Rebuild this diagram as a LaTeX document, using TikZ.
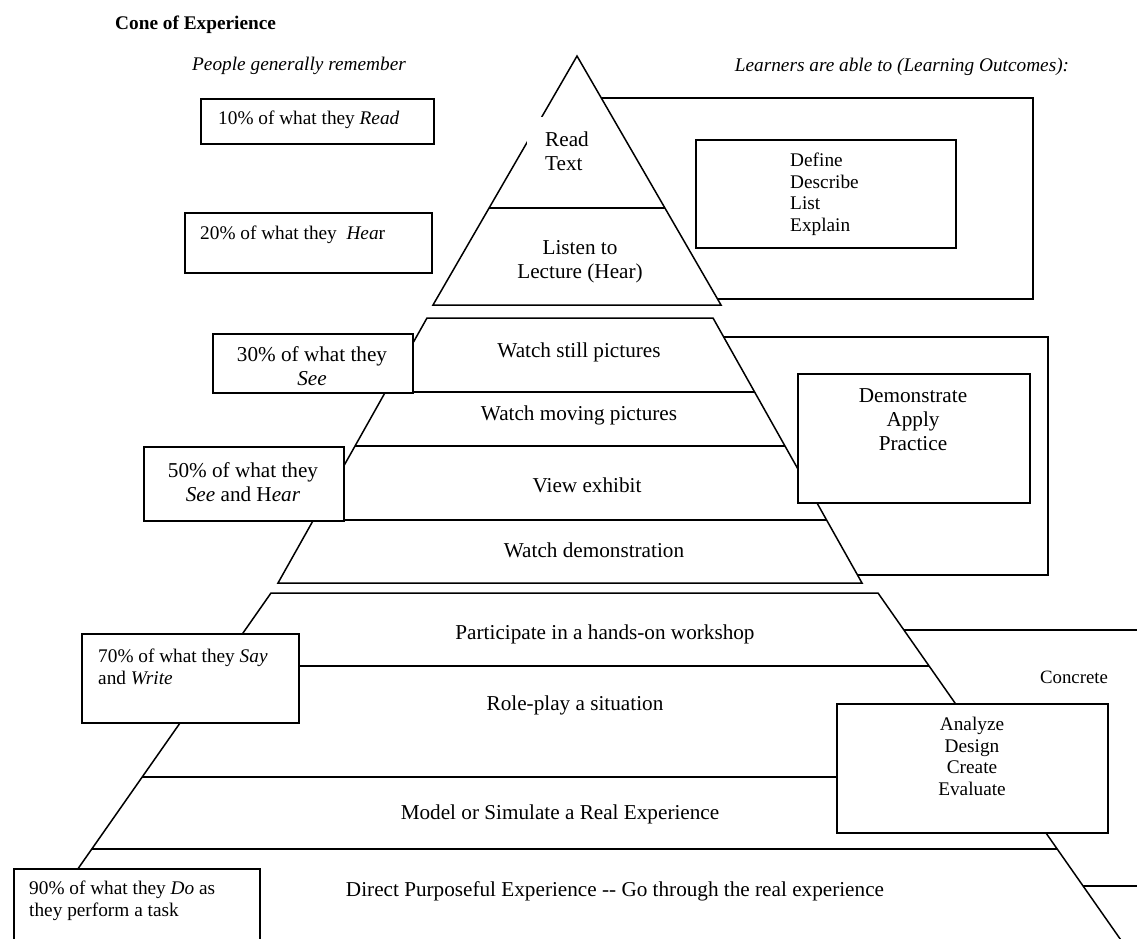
\documentclass[tikz,border=0pt]{standalone}
\usepackage{fontspec}
\setmainfont{Liberation Serif}
\usetikzlibrary{calc}

\newcommand{\conefont}{\fontsize{21.2}{24}\selectfont}
\newcommand{\sidefont}{\fontsize{19.3}{21.5}\selectfont}

\begin{document}
\begin{tikzpicture}[x=1pt,y=-1pt]
  \tikzset{FrameStyle/.style={draw=black,line width=1.5pt},
    ConeStyle/.style={draw=black,fill=white,line width=1.5pt},
    LineStyle/.style={draw=black,line width=1.5pt},
    BoxStyle/.style={draw=black,fill=white,line width=1.5pt,inner sep=0pt,anchor=north west},
    ConeText/.style={font=\conefont,inner sep=0pt,anchor=base},
    SideText/.style={font=\sidefont,inner sep=0pt,anchor=base west},
    ListText/.style={font=\sidefont,inner sep=0pt,anchor=north west,align=left}
  }
  \clip (0,0) rectangle (1137,938);
  % outcome frames (behind the cone)
  \draw[FrameStyle] (590,98) rectangle (1033,299);
  \draw[FrameStyle] (700,337) rectangle (1048,575);
  \draw[FrameStyle] (880,630) rectangle (1160,886);
  % top of the cone
  \coordinate (apex) at (577,56);
  \coordinate (tl) at (433,305);
  \coordinate (tr) at (721,305);
  \draw[ConeStyle] (apex) -- (tr) -- (tl) -- cycle;
  \draw[LineStyle] ($(apex)!0.6104!(tl)$) -- ($(apex)!0.6104!(tr)$);
  % middle part
  \coordinate (ml) at (427,318);
  \coordinate (mr) at (713,318);
  \coordinate (nl) at (278,583);
  \coordinate (nr) at (862,583);
  \draw[ConeStyle] (ml) -- (mr) -- (nr) -- (nl) -- cycle;
  \foreach \t in {0.2792,0.4830,0.7623}
    \draw[LineStyle] ($(ml)!\t!(nl)$) -- ($(mr)!\t!(nr)$);
  % base part
  \coordinate (bl) at (271,593);
  \coordinate (br) at (878,593);
  \coordinate (cl) at (5,973);
  \coordinate (cr) at (1144,973);
  \draw[ConeStyle] (bl) -- (br) -- (cr) -- (cl) -- cycle;
  \foreach \t in {0.1921,0.4842,0.6737}
    \draw[LineStyle] ($(bl)!\t!(cl)$) -- ($(br)!\t!(cr)$);

  % labels in the cone
  \node[font=\conefont,fill=white,inner xsep=18pt,inner ysep=14.4pt,anchor=north west,align=left] (read) at (527,117) {Read\\Text};
  \node[font=\conefont,inner sep=0pt,anchor=north,align=center] (listen) at (580,240.4) {Listen to\\Lecture (Hear)};
  \node[ConeText] (still) at (579,357) {Watch still pictures};
  \node[ConeText] (moving) at (579,420) {Watch moving pictures};
  \node[ConeText] (exhibit) at (587,492) {View exhibit};
  \node[ConeText] (demo) at (594,557) {Watch demonstration};
  \node[ConeText] (workshop) at (605,639) {Participate in a hands-on workshop};
  \node[ConeText] (roleplay) at (575,710) {Role-play a situation};
  \node[ConeText] (model) at (560,819) {Model or Simulate a Real Experience};
  \node[ConeText] (direct) at (615,896) {Direct Purposeful Experience -{}- Go through the real experience};

  % what people remember
  \node[SideText,font=\sidefont\bfseries] (title) at (115,29) {Cone of Experience};
  \node[font=\sidefont\itshape,inner sep=0pt,anchor=base] (people) at (299,70) {People generally remember};
  \node[BoxStyle,minimum width=233pt,minimum height=45pt] (b10) at (200,98) {};
  \node[SideText] (t10) at (218,124) {10\% of what they \textit{Read}};
  \node[BoxStyle,minimum width=247pt,minimum height=60pt] (b20) at (184,212) {};
  \node[SideText] (t20) at (200,239) {20\% of what they\ \ \textit{Hea}r};
  \node[BoxStyle,minimum width=200pt,minimum height=59pt] (b30) at (212,333) {};
  \node[font=\conefont,inner sep=0pt,anchor=north,align=center] (t30) at (312,346) {30\% of what they\\\textit{See}};
  \node[BoxStyle,minimum width=200pt,minimum height=74pt] (b50) at (143,446) {};
  \node[font=\conefont,inner sep=0pt,anchor=north,align=center] (t50) at (243,462) {50\% of what they\\\textit{See} and H\textit{ear}};
  \node[BoxStyle,minimum width=217pt,minimum height=89pt] (b70) at (81,633) {};
  \node[ListText] (t70) at (98,649) {70\% of what they \textit{Say}\\and \textit{Write}};
  \node[BoxStyle,minimum width=246pt,minimum height=100pt] (b90) at (13,868) {};
  \node[ListText] (t90) at (29,881) {90\% of what they \textit{Do} as\\they perform a task};

  % learning outcomes
  \node[font=\sidefont\itshape,inner sep=0pt,anchor=base] (learners) at (902,71) {Learners are able to (Learning Outcomes):};
  \node[BoxStyle,minimum width=260pt,minimum height=108pt] (bdef) at (695,139) {};
  \node[ListText] (tdef) at (790,153) {Define\\Describe\\List\\Explain};
  \node[BoxStyle,minimum width=232pt,minimum height=129pt] (bdem) at (797,373) {};
  \node[font=\conefont,inner sep=0pt,anchor=north,align=center] (tdem) at (913,388) {Demonstrate\\Apply\\Practice};
  \node[BoxStyle,minimum width=271pt,minimum height=129pt] (bana) at (836,703) {};
  \node[font=\sidefont,inner sep=0pt,anchor=north,align=center] (tana) at (972,717) {Analyze\\Design\\Create\\Evaluate};
  \node[font=\fontsize{18.8}{21}\selectfont,inner sep=0pt,anchor=base] (concrete) at (1074,683) {Concrete};
\end{tikzpicture}
\end{document}
